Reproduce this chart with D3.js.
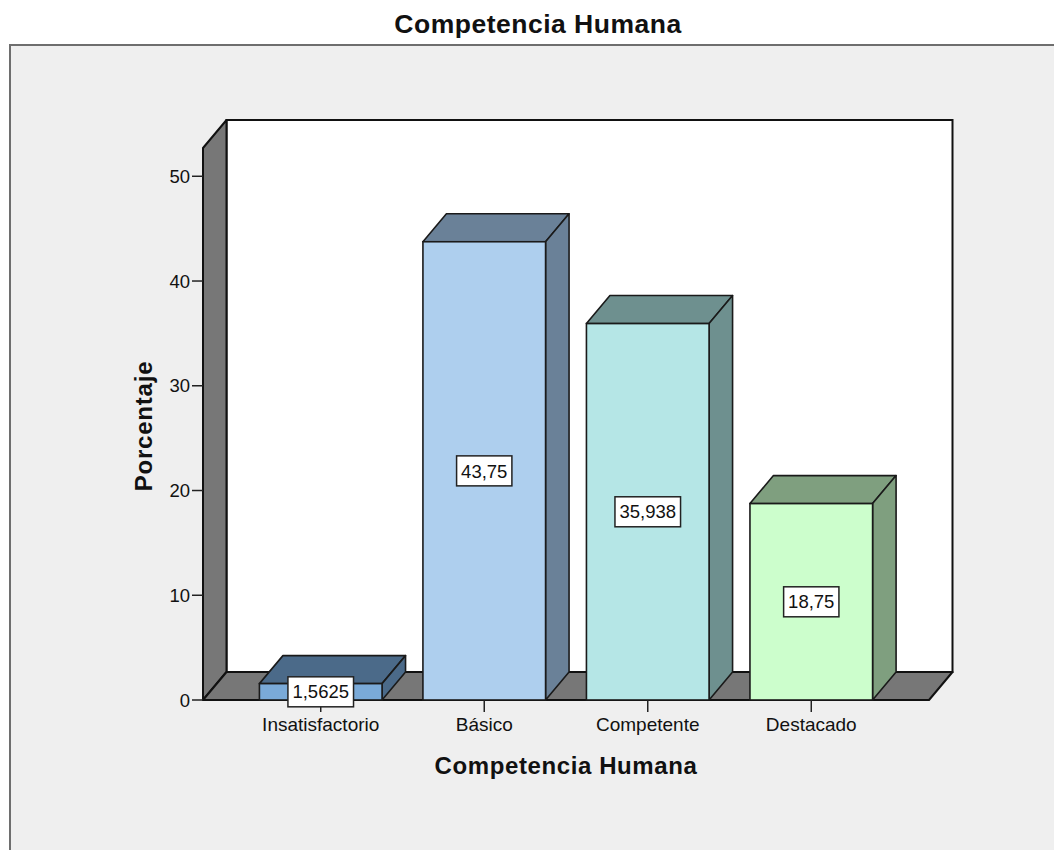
<!DOCTYPE html>
<html><head><meta charset="utf-8">
<script src="https://cdn.jsdelivr.net/npm/d3@7"></script>
<style>html,body{margin:0;padding:0;background:#fff;}svg{display:block;}</style>
</head><body>
<script>
const categories = ["Insatisfactorio", "Básico", "Competente", "Destacado"];
const values = [1.5625, 43.75, 35.938, 18.75];
const valueLabels = ["1,5625", "43,75", "35,938", "18,75"];
const yTicks = [0, 10, 20, 30, 40, 50];
const frontColors = ["#7aaad8", "#aecfee", "#b5e6e6", "#ccfecc"];
const darkColors = ["#4b6a89", "#6a8198", "#6e908f", "#7f9f7f"];
const title = "Competencia Humana";
const xTitle = "Competencia Humana";
const yTitle = "Porcentaje";

const W = 1054, H = 850;
const svg = d3.select("body").append("svg").attr("width", W).attr("height", H);
const font = "'Liberation Sans', Arial, sans-serif";

// outer frame
svg.append("rect").attr("x", 0).attr("y", 0).attr("width", W).attr("height", H).attr("fill", "#fff");
svg.append("rect").attr("x", 10).attr("y", 45).attr("width", W + 20).attr("height", H + 20)
  .attr("fill", "#efefef").attr("stroke", "#6e6e6e").attr("stroke-width", 2);

const x0 = 203, x1 = 929, yBase = 700, yTop = 148;
const dx = 23.5, dy = 28;
const y = d3.scaleLinear().domain([0, 52.7]).range([yBase, yTop]);
const x = d3.scaleBand().domain(categories).range([x0, x1]).paddingInner(0.25).paddingOuter(0.345);

const line = d3.line();
const stroke = "#111";
// back wall
svg.append("path").attr("d", line([[x0+dx, yTop-dy],[x1+dx, yTop-dy],[x1+dx, yBase-dy],[x0+dx, yBase-dy]]) + "Z")
  .attr("fill", "#fff").attr("stroke", stroke).attr("stroke-width", 2);
// left wall
svg.append("path").attr("d", line([[x0, yTop],[x0+dx, yTop-dy],[x0+dx, yBase-dy],[x0, yBase]]) + "Z")
  .attr("fill", "#777").attr("stroke", stroke).attr("stroke-width", 2).attr("stroke-linejoin", "round");
// floor
svg.append("path").attr("d", line([[x0, yBase],[x0+dx, yBase-dy],[x1+dx, yBase-dy],[x1, yBase]]) + "Z")
  .attr("fill", "#777").attr("stroke", stroke).attr("stroke-width", 2).attr("stroke-linejoin", "round");

// y axis ticks
const gy = svg.append("g");
yTicks.forEach(t => {
  gy.append("line").attr("x1", x0 - 11).attr("x2", x0).attr("y1", y(t)).attr("y2", y(t))
    .attr("stroke", "#222").attr("stroke-width", 1.5);
  gy.append("text").attr("x", x0 - 13).attr("y", y(t)).attr("dy", "0.36em")
    .attr("text-anchor", "end").attr("font-family", font).attr("font-size", 18.5).attr("fill", "#111").text(t);
});

// bars
const bars = svg.append("g");
categories.forEach((c, i) => {
  const bx = x(c), bw = x.bandwidth(), by = y(values[i]);
  const g = bars.append("g");
  g.append("path").attr("d", line([[bx, by],[bx+dx, by-dy],[bx+bw+dx, by-dy],[bx+bw, by]]) + "Z")
    .attr("fill", darkColors[i]).attr("stroke", "#1a1a1a").attr("stroke-width", 1.6).attr("stroke-linejoin", "round");
  g.append("path").attr("d", line([[bx+bw, by],[bx+bw+dx, by-dy],[bx+bw+dx, yBase-dy],[bx+bw, yBase]]) + "Z")
    .attr("fill", darkColors[i]).attr("stroke", "#1a1a1a").attr("stroke-width", 1.6).attr("stroke-linejoin", "round");
  g.append("rect").attr("x", bx).attr("y", by).attr("width", bw).attr("height", yBase - by)
    .attr("fill", frontColors[i]).attr("stroke", "#1a1a1a").attr("stroke-width", 1.6);
});

// x ticks & labels
categories.forEach((c, i) => {
  const cx = x(c) + x.bandwidth() / 2;
  svg.append("line").attr("x1", cx).attr("x2", cx).attr("y1", yBase).attr("y2", yBase + 12)
    .attr("stroke", "#222").attr("stroke-width", 1.5);
  svg.append("text").attr("x", cx).attr("y", 731).attr("text-anchor", "middle")
    .attr("font-family", font).attr("font-size", 19).attr("fill", "#111").text(c);
});

// value labels
categories.forEach((c, i) => {
  const cx = x(c) + x.bandwidth() / 2;
  const cy = (y(values[i]) + yBase) / 2;
  const g = svg.append("g");
  const t = g.append("text").attr("x", cx).attr("y", cy).attr("dy", "0.36em").attr("text-anchor", "middle")
    .attr("font-family", font).attr("font-size", 18.5).attr("fill", "#111").text(valueLabels[i]);
  const bb = t.node().getBBox();
  g.insert("rect", "text").attr("x", cx - bb.width/2 - 4.5).attr("y", cy - 15).attr("width", bb.width + 9).attr("height", 30)
    .attr("fill", "#fff").attr("stroke", "#222").attr("stroke-width", 1.5);
});

// titles
svg.append("text").attr("x", 538).attr("y", 33).attr("text-anchor", "middle")
  .attr("font-family", font).attr("font-weight", "bold").attr("font-size", 26.5).attr("letter-spacing", 0.5)
  .attr("fill", "#111").text(title);
svg.append("text").attr("x", 566).attr("y", 774).attr("text-anchor", "middle")
  .attr("font-family", font).attr("font-weight", "bold").attr("font-size", 24).attr("letter-spacing", 0.6)
  .attr("fill", "#111").text(xTitle);
svg.append("text").attr("transform", "translate(152,426) rotate(-90)").attr("text-anchor", "middle")
  .attr("font-family", font).attr("font-weight", "bold").attr("font-size", 24).attr("letter-spacing", 0.8)
  .attr("fill", "#111").text(yTitle);
</script>
</body></html>
